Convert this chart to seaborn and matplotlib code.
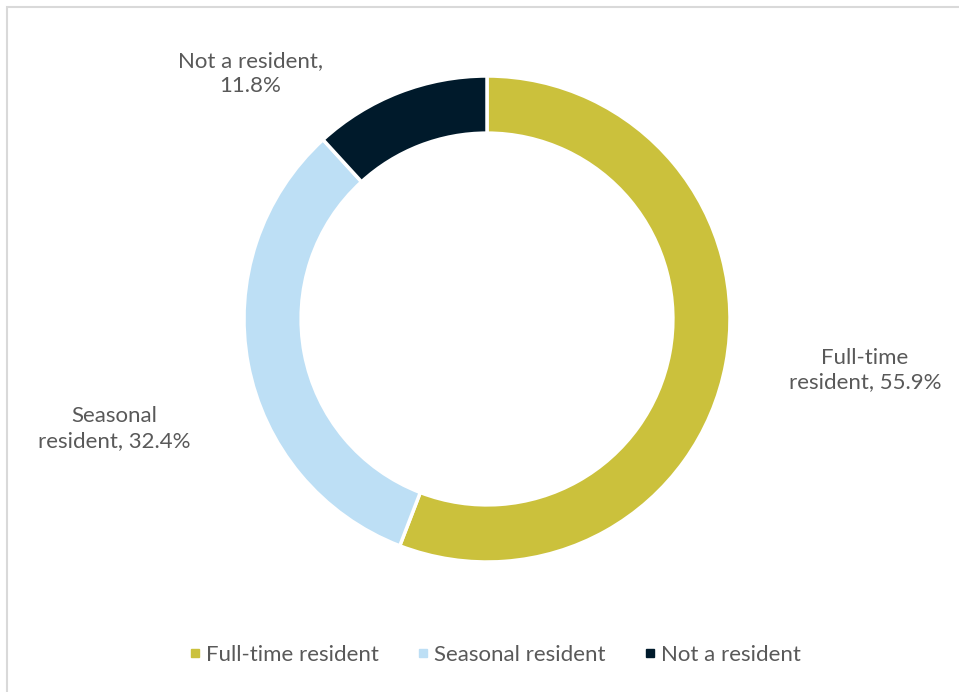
import seaborn as sns
from matplotlib import pyplot as plt
from matplotlib.lines import Line2D
from matplotlib.patches import Rectangle


categories = ["Full-time resident", "Seasonal resident", "Not a resident"]
shares = [55.9, 32.4, 11.8]
slice_labels = ["Full-time\nresident, 55.9%", "Seasonal\nresident, 32.4%", "Not a resident,\n11.8%"]
colors = ["#CBC13C", "#BDDFF5", "#001A2B"]

sns.set_theme(style="white")
plt.rcParams["font.family"] = ["Lato", "DejaVu Sans"]
text_color = "#595959"

fig = plt.figure(figsize=(9.59, 6.92), dpi=100)

# light grey frame, only top and left edges fall inside the picture
fig.patches.append(Rectangle((6.5 / 959, -0.1), 1.2, 1.1 - 6.5 / 692,
                             transform=fig.transFigure, fill=False,
                             edgecolor="#D9D9D9", linewidth=1.5))

ax = fig.add_axes([244 / 959, 130 / 692, 486 / 959, 486 / 692])
wedges, _ = ax.pie(shares, colors=colors, startangle=90, counterclock=False,
                   radius=1.0,
                   wedgeprops=dict(width=0.235, edgecolor="white", linewidth=2.5))
ax.set_xlim(-1, 1)
ax.set_ylim(-1, 1)
ax.set_aspect("equal")

# label positions (in pie data units)
label_pos = [(1.555, -0.21), (-1.535, -0.45), (-0.975, 1.01)]
for txt, (x, y) in zip(slice_labels, label_pos):
    ax.text(x, y, txt, ha="center", va="center", fontsize=16,
            color=text_color, linespacing=1.3)

handles = [Line2D([], [], marker="s", linestyle="", markersize=6,
                  markerfacecolor=c, markeredgecolor=c) for c in colors]
fig.legend(handles, categories, loc="center", bbox_to_anchor=(495 / 959, 1 - 655 / 692),
           ncol=3, frameon=False, fontsize=16, handlelength=0.5,
           handletextpad=0.25, columnspacing=1.75, labelcolor=text_color)

plt.savefig("out.png", dpi=100)
